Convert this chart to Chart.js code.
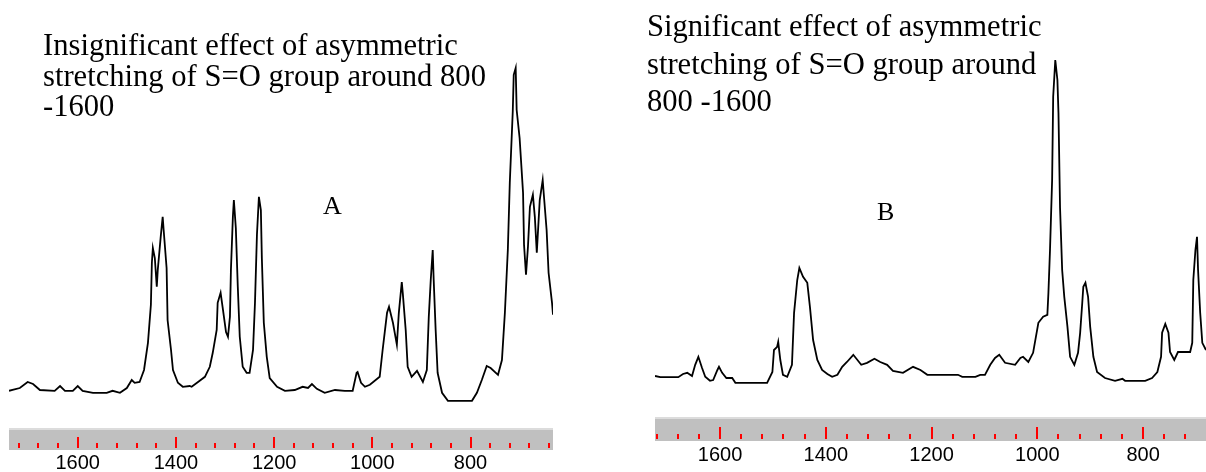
<!DOCTYPE html>
<html>
<head>
<meta charset="utf-8">
<script src="https://cdn.jsdelivr.net/npm/chart.js@4.4.1/dist/chart.umd.min.js"></script>
<style>
  body { margin: 0; background: #fff; }
  #page { position: relative; width: 1206px; height: 472px; overflow: hidden; background: #fff; }
  canvas { position: absolute; top: 0; }
  .note { position: absolute; font-family: "Liberation Serif", serif; font-size: 30.6px; color: #000; white-space: nowrap; }
  .tag { position: absolute; font-family: "Liberation Serif", serif; font-size: 26px; line-height: 26px; color: #000; }
</style>
</head>
<body>
<div id="page">
  <canvas id="specA" width="560" height="472" style="left:0"></canvas>
  <canvas id="specB" width="560" height="472" style="left:646px"></canvas>
  <div class="note" style="left:43px; top:30px; line-height:30.5px">Insignificant effect of asymmetric<br>stretching of S=O group around 800<br>-1600</div>
  <div class="note" style="left:647px; top:8px; line-height:37.5px">Significant effect of asymmetric<br>stretching of S=O group around<br>800 -1600</div>
  <div class="tag" style="left:323px; top:193px">A</div>
  <div class="tag" style="left:877px; top:199px">B</div>
</div>
<script>
// Spectrum A (wavenumber, cm-1 / relative absorbance)
const wavenumbersA = [
  1740, 1718, 1702, 1691, 1677, 1647, 1636, 1626, 1610, 1600, 1590, 1569, 1541, 1529, 1514, 1500,
  1490, 1484, 1474, 1465, 1457, 1451, 1449, 1447, 1443, 1439, 1437, 1431, 1427, 1425, 1419, 1417,
  1410, 1406, 1396, 1386, 1372, 1368, 1355, 1341, 1331, 1325, 1317, 1315, 1309, 1305, 1298, 1294,
  1290, 1288, 1284, 1282, 1278, 1274, 1270, 1264, 1256, 1250, 1243, 1239, 1235, 1231, 1227, 1225,
  1221, 1215, 1209, 1194, 1178, 1158, 1142, 1131, 1123, 1113, 1097, 1076, 1056, 1040, 1032, 1030,
  1023, 1015, 1005, 985, 979, 970, 966, 958, 950, 946, 940, 938, 932, 928, 920, 909,
  897, 889, 885, 881, 877, 875, 871, 867, 858, 846, 797, 787, 777, 767, 759, 744,
  736, 730, 724, 720, 714, 712, 708, 706, 700, 693, 691, 687, 683, 679, 673, 669,
  665, 659, 653, 651, 645, 641, 634, 632
];
const absorbanceA = [
  4.8, 5.5, 7.0, 6.5, 5.0, 4.8, 6.0, 4.8, 4.8, 6.0, 4.8, 4.3, 4.3, 4.8, 4.3, 5.5,
  7.5, 6.8, 7.0, 10.0, 16.8, 26.3, 36.8, 40.5, 38.0, 30.8, 35.0, 43.3, 48.3, 45.0, 35.5, 22.5,
  15.0, 10.0, 6.8, 5.8, 6.0, 5.8, 7.0, 8.3, 10.8, 14.3, 20.0, 26.8, 29.3, 25.8, 19.5, 18.3,
  23.3, 35.0, 48.3, 52.5, 45.5, 30.8, 18.3, 10.8, 9.3, 9.3, 15.0, 26.8, 43.8, 53.3, 50.0, 38.0,
  21.8, 13.3, 8.0, 5.8, 4.8, 5.0, 5.8, 5.5, 6.5, 5.3, 4.3, 5.0, 4.8, 4.8, 9.3, 9.5,
  6.8, 5.8, 6.3, 8.3, 15.0, 24.3, 25.8, 21.8, 16.3, 24.3, 32.0, 29.3, 20.0, 10.8, 8.3, 9.8,
  7.0, 10.0, 23.3, 32.5, 40.0, 32.5, 20.0, 9.3, 4.3, 2.3, 2.3, 4.3, 7.5, 11.0, 10.5, 8.8,
  12.5, 24.3, 40.0, 56.8, 74.5, 83.8, 85.5, 75.0, 68.0, 54.3, 41.3, 33.8, 40.8, 50.8, 53.8, 48.3,
  39.3, 52.5, 57.5, 54.3, 45.0, 34.3, 26.8, 23.8
];

// Spectrum B
const wavenumbersB = [
  1723, 1713, 1679, 1670, 1662, 1653, 1647, 1641, 1634, 1628, 1619, 1613, 1605, 1602, 1596, 1588,
  1577, 1571, 1511, 1501, 1498, 1492, 1490, 1486, 1481, 1473, 1464, 1460, 1454, 1450, 1443, 1435,
  1430, 1424, 1416, 1407, 1397, 1388, 1378, 1369, 1360, 1348, 1333, 1322, 1308, 1297, 1284, 1273,
  1254, 1235, 1221, 1208, 1150, 1142, 1117, 1108, 1099, 1089, 1080, 1072, 1061, 1042, 1032, 1027,
  1017, 1008, 998, 989, 981, 979, 976, 972, 970, 966, 962, 960, 957, 953, 949, 943,
  938, 930, 923, 919, 915, 913, 909, 904, 900, 894, 887, 872, 853, 839, 834, 796,
  783, 773, 766, 764, 758, 752, 749, 741, 734, 711, 707, 705, 701, 698, 696, 692,
  688, 681
];
const absorbanceB = [
  6.0, 5.7, 5.7, 6.5, 6.8, 6.0, 8.8, 10.8, 8.0, 5.8, 4.8, 5.0, 7.5, 8.3, 6.8, 5.5,
  5.5, 4.3, 4.3, 7.0, 12.5, 13.3, 14.5, 10.0, 6.3, 5.8, 8.8, 21.8, 30.0, 33.0, 30.8, 29.3,
  23.3, 15.0, 10.0, 7.5, 6.5, 5.8, 6.3, 8.3, 9.5, 11.3, 8.8, 9.3, 10.3, 9.5, 8.8, 7.3,
  6.8, 8.3, 7.5, 6.3, 6.3, 5.8, 5.8, 6.3, 6.3, 8.8, 10.5, 11.3, 9.3, 8.8, 10.5, 10.8,
  9.5, 11.8, 19.3, 20.8, 21.3, 26.8, 37.5, 55.0, 75.8, 85.0, 80.0, 71.8, 48.0, 32.5, 25.8, 18.3,
  10.8, 8.8, 11.8, 16.8, 24.3, 28.3, 29.3, 25.8, 18.3, 10.8, 7.0, 5.5, 4.8, 5.3, 4.8, 4.8,
  5.5, 7.0, 10.8, 16.8, 19.0, 16.8, 12.0, 10.0, 12.0, 12.0, 14.3, 30.0, 37.5, 40.8, 32.5, 21.8,
  14.3, 12.5
];

// Ruler labels and spacing of the small red ticks
const tickLabels = [1600, 1400, 1200, 1000, 800];
const minorStep = 40;

const toPoints = (xs, ys) => xs.map((x, i) => ({ x, y: ys[i] }));

// Gray wavenumber ruler with red tick marks, drawn from the x scale
const rulerPlugin = {
  id: 'ruler',
  afterDraw(chart, args, opts) {
    const { ctx, chartArea } = chart;
    const xScale = chart.scales.x;
    const bottom = opts.top + opts.height;
    ctx.save();
    ctx.fillStyle = '#dcdcdc';
    ctx.fillRect(chartArea.left, opts.top - 2, chartArea.right - chartArea.left, 2);
    ctx.fillStyle = '#c0c0c0';
    ctx.fillRect(chartArea.left, opts.top, chartArea.right - chartArea.left, opts.height);

    ctx.fillStyle = '#ff0000';
    for (let v = 1720; v >= xScale.min; v -= minorStep) {
      const px = Math.round(xScale.getPixelForValue(v));
      const len = tickLabels.includes(v) ? opts.majorLen : opts.minorLen;
      ctx.fillRect(px - 1, bottom - 2 - len, 2, len);
    }

    ctx.fillStyle = '#000';
    ctx.font = '20px "Liberation Sans", Arial, sans-serif';
    ctx.textAlign = 'center';
    ctx.textBaseline = 'middle';
    tickLabels.forEach(v => ctx.fillText(String(v), xScale.getPixelForValue(v), opts.labelY));
    ctx.restore();
  }
};

function makeSpectrum(canvasId, xs, ys, range, padding, ruler) {
  return new Chart(document.getElementById(canvasId), {
    type: 'line',
    data: {
      datasets: [{
        data: toPoints(xs, ys),
        borderColor: '#000',
        borderWidth: 1.8,
        pointRadius: 0,
        tension: 0,
        fill: false,
      }]
    },
    options: {
      responsive: false,
      animation: false,
      events: [],
      layout: { padding },
      plugins: {
        legend: { display: false },
        tooltip: { enabled: false },
        ruler,
      },
      scales: {
        x: { type: 'linear', reverse: true, min: range[0], max: range[1], display: false },
        y: { min: 0, max: 100, display: false },
      },
    },
    plugins: [rulerPlugin],
  });
}

makeSpectrum('specA', wavenumbersA, absorbanceA, [632, 1740],
  { left: 9, right: 7, top: 10, bottom: 62 },
  { top: 430, height: 20, majorLen: 11, minorLen: 5, labelY: 463 });

makeSpectrum('specB', wavenumbersB, absorbanceB, [681, 1723],
  { left: 9, right: 0, top: 0, bottom: 72 },
  { top: 419, height: 22, majorLen: 12, minorLen: 5, labelY: 455 });
</script>
</body>
</html>
